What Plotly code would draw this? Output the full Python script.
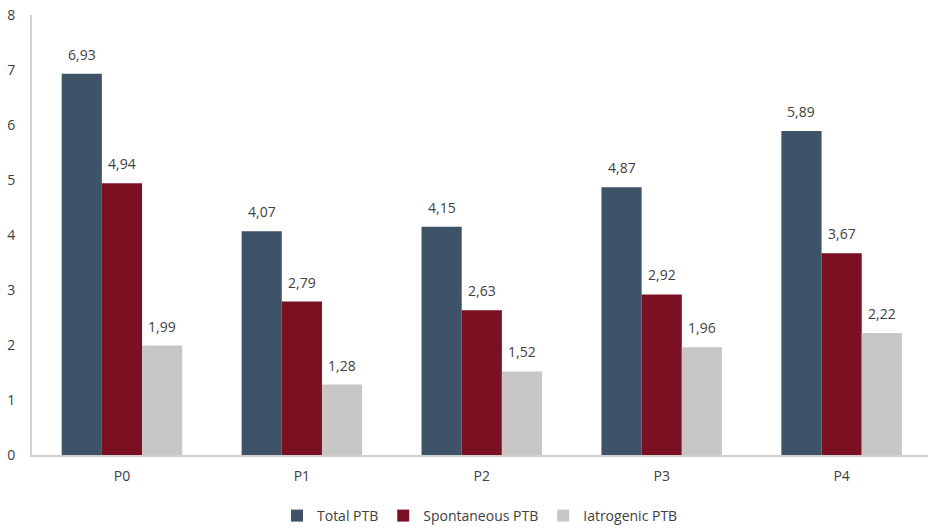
import plotly.graph_objects as go

categories = ["P0", "P1", "P2", "P3", "P4"]
total_ptb = [6.93, 4.07, 4.15, 4.87, 5.89]
spontaneous_ptb = [4.94, 2.79, 2.63, 2.92, 3.67]
iatrogenic_ptb = [1.99, 1.28, 1.52, 1.96, 2.22]

series = [
    ("Total PTB", total_ptb, "#3E5368"),
    ("Spontaneous PTB", spontaneous_ptb, "#7B1022"),
    ("Iatrogenic PTB", iatrogenic_ptb, "#C8C7C6"),
]

font_family = "Open Sans, Liberation Sans, sans-serif"
text_color = "#404040"

W, H = 928, 528
margin = dict(l=32, r=0, t=15, b=73)
x_range = [-0.5, 4.48]
bargap = 0.33

# pixel width of one bar, used to centre value labels over each bar
plot_w = W - margin["l"] - margin["r"]
cat_px = plot_w / (x_range[1] - x_range[0])
bar_px = cat_px * (1 - bargap) / len(series)

fig = go.Figure()
annotations = []
for i, (name, values, color) in enumerate(series):
    fig.add_trace(go.Bar(
        name=name,
        x=categories,
        y=values,
        marker=dict(color=color, line=dict(width=0)),
    ))
    for cat, v in zip(categories, values):
        annotations.append(dict(
            x=cat, y=v, xref="x", yref="y",
            text=f"{v:.2f}".replace(".", ","),
            showarrow=False,
            yanchor="bottom",
            yshift=8,
            xshift=(i - (len(series) - 1) / 2) * bar_px,
            font=dict(size=14, color=text_color, family=font_family),
        ))

fig.update_layout(
    width=W,
    height=H,
    barmode="group",
    bargap=bargap,
    bargroupgap=0,
    plot_bgcolor="white",
    paper_bgcolor="white",
    margin=dict(**margin, autoexpand=False),
    font=dict(family=font_family, size=14, color=text_color),
    annotations=annotations,
    showlegend=True,
    legend=dict(
        orientation="h",
        x=0.5,
        xanchor="center",
        y=-(516 - 455) / (H - margin["t"] - margin["b"]),
        yanchor="middle",
        font=dict(size=14, color=text_color),
        itemwidth=30,
        traceorder="normal",
    ),
    xaxis=dict(
        range=x_range,
        showline=True,
        linecolor="#D0D0D0",
        linewidth=2,
        ticks="",
        ticklabelstandoff=7,
        tickfont=dict(size=14, color=text_color),
        showgrid=False,
        automargin=False,
    ),
    yaxis=dict(
        range=[0, 8],
        dtick=1,
        showline=True,
        linecolor="#D0D0D0",
        linewidth=2,
        showgrid=False,
        zeroline=False,
        ticks="",
        ticklabelstandoff=12,
        tickfont=dict(size=14, color=text_color),
        automargin=False,
    ),
)

fig.write_html("out.html")
